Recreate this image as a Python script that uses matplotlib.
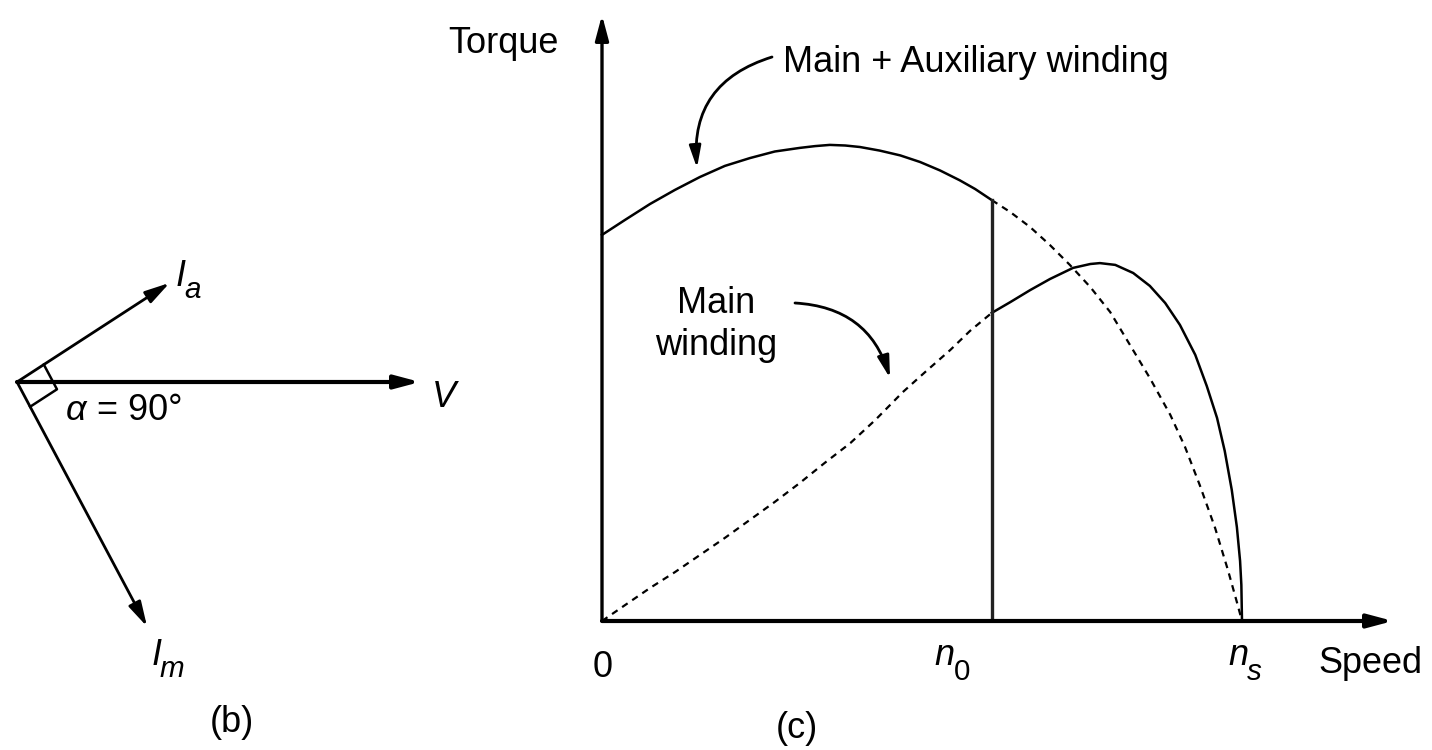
import numpy as np
import matplotlib
matplotlib.use("Agg")
import matplotlib.pyplot as plt
from matplotlib import font_manager as fm

# (b) phasor diagram: length in px, angle in degrees
phasor_names = ["V", "I", "I"]
phasor_subs = ["", "a", "m"]
phasor_mag = [403, 182, 277]
phasor_ang = [0, 33, -62]

# (c) torque-speed curves, speed in p.u. of n_s
speed_aux = [0, .036, .075, .114, .153, .192, .231, .270, .309, .333, .356, .380,
             .403, .434, .466, .497, .528, .559, .583, .609,
             .638, .669, .700, .731, .763, .794, .825, .856, .888, .911, .934,
             .958, .978, .992, 1.0]
torque_aux = [1.287, 1.337, 1.390, 1.437, 1.480, 1.517, 1.543, 1.565, 1.577, 1.583,
              1.587, 1.585, 1.580, 1.568, 1.552, 1.530, 1.502, 1.469, 1.440, 1.403,
              1.363, 1.313, 1.253, 1.187, 1.113, 1.030, .920, .810, .687, .580, .453,
              .310, .170, .063, 0]
speed_main = [0, .036, .075, .114, .153, .192, .231, .270, .309, .348, .388, .427,
              .470, .505, .544, .575, .609,
              .638, .669, .700, .736, .763, .778, .802, .830, .856, .880, .903, .927,
              .945, .961, .973, .984, .992, .997, .999, 1.0]
torque_main = [0, .053, .110, .163, .220, .277, .337, .397, .460, .527, .593, .670,
               .763, .830, .903, .967, 1.027,
               1.063, 1.103, 1.140, 1.177, 1.190, 1.193, 1.187, 1.160, 1.117, 1.060,
               .987, .887, .783, .677, .567, .437, .313, .200, .120, 0]
n0 = 0.609
ns = 1.0
tick_pos = [0, n0, ns]
tick_main = ["0", "n", "n"]
tick_subs = ["", "0", "s"]

names = {f.name for f in fm.fontManager.ttflist}
FONT = "Liberation Sans Narrow" if "Liberation Sans Narrow" in names else "Liberation Sans"
FS = 31 if FONT == "Liberation Sans Narrow" else 26
SUB = FS * 0.82
plt.rcParams["font.family"] = [FONT, "DejaVu Sans"]

W, H = 1432, 750
fig = plt.figure(figsize=(W / 100, H / 100), dpi=100)

# overlay in pixel coords for the phasor diagram and the labels
ov = fig.add_axes([0, 0, 1, 1])
ov.set_xlim(0, W)
ov.set_ylim(H, 0)
ov.axis("off")

head = "-|>,head_length=0.6,head_width=0.16"

# ---- (b) phasors
org = np.array([17, 382])
dirs = []
for m, a in zip(phasor_mag, phasor_ang):
    u = np.array([np.cos(np.radians(a)), -np.sin(np.radians(a))])
    dirs.append(u)
    ov.annotate("", xy=org + m * u, xytext=org,
                arrowprops=dict(arrowstyle=head, lw=3.0 if a == 0 else 2.0,
                                color="black", shrinkA=0, shrinkB=0,
                                mutation_scale=25))
# right-angle mark between I_a and I_m
p1 = org + 32 * dirs[1]
p2 = p1 + 28 * dirs[2]
p3 = org + 28 * dirs[2]
ov.plot([p1[0], p2[0], p3[0]], [p1[1], p2[1], p3[1]], color="black", lw=1.8)

lab_pos = [(432, 407), (176, 286), (152, 665)]
for (x, y), nm, sb in zip(lab_pos, phasor_names, phasor_subs):
    ov.text(x, y, nm, fontsize=FS, style="italic", va="baseline", ha="left")
    if sb:
        ov.text(x + 8, y + 12, sb, fontsize=SUB, style="italic",
                va="baseline", ha="left")
ov.text(66, 420, "α", fontsize=FS, style="italic", va="baseline", ha="left")
ov.text(87, 420, " = 90°", fontsize=FS, va="baseline", ha="left")
ov.text(232, 722, "(b)", fontsize=FS, va="center", ha="center")

# ---- (c) torque-speed
ox, oy, xe, ye = 602, 621, 1393, 15
px_s, px_t = 640, 300
ax = fig.add_axes([ox / W, (H - oy) / H, (xe - ox) / W, (oy - ye) / H])
ax.set_xlim(0, (xe - ox) / px_s)
ax.set_ylim(0, (oy - ye) / px_t)
ax.axis("off")

ax.annotate("", xy=(ax.get_xlim()[1], 0), xytext=(0, 0), annotation_clip=False,
            arrowprops=dict(arrowstyle=head, lw=3.0, color="black",
                            shrinkA=0, shrinkB=0, mutation_scale=25))
ax.annotate("", xy=(0, ax.get_ylim()[1]), xytext=(0, 0), annotation_clip=False,
            arrowprops=dict(arrowstyle=head, lw=2.4, color="black",
                            shrinkA=0, shrinkB=0, mutation_scale=25))

sa, ta = np.array(speed_aux), np.array(torque_aux)
sm, tm = np.array(speed_main), np.array(torque_main)
dash = (0, (3, 2.5))
ax.plot(sa[sa <= n0], ta[sa <= n0], color="black", lw=1.8, clip_on=False)
ax.plot(sa[sa >= n0], ta[sa >= n0], color="black", lw=1.6, ls=dash, clip_on=False)
ax.plot(sm[sm <= n0], tm[sm <= n0], color="black", lw=1.6, ls=dash, clip_on=False)
ax.plot(sm[sm >= n0], tm[sm >= n0], color="black", lw=1.8, clip_on=False)
ax.plot([n0, n0], [0, np.interp(n0, sa, ta)], color="#222222", lw=2.4)

# axis texts
ov.text(448, 53, "Torque", fontsize=FS, va="baseline", ha="left")
ov.text(1318, 673, "Speed", fontsize=FS, va="baseline", ha="left")
for p, nm, sb in zip(tick_pos, tick_main, tick_subs):
    x = ox + p * px_s
    if not sb:
        ov.text(x - 9, 677, nm, fontsize=FS, va="baseline", ha="left")
        continue
    x0 = x - 57 if p == n0 else x - 14
    ov.text(x0, 665, nm, fontsize=FS, style="italic", va="baseline", ha="left")
    ov.text(x0 + 19, 680, sb, fontsize=SUB, style="normal" if sb == "0" else "italic",
            va="baseline", ha="left")
ov.text(797, 728, "(c)", fontsize=FS, va="center", ha="center")

# annotations
ov.text(783, 72, "Main + Auxiliary winding", fontsize=FS, va="baseline", ha="left")
ov.annotate("", xy=(697, 168), xytext=(772, 57),
            arrowprops=dict(arrowstyle=head, lw=2.0, color="black", shrinkA=0, shrinkB=0,
                            mutation_scale=22, connectionstyle="arc3,rad=0.4"))
ov.text(716, 313, "Main", fontsize=FS, va="baseline", ha="center")
ov.text(716, 355, "winding", fontsize=FS, va="baseline", ha="center")
ov.annotate("", xy=(890, 378), xytext=(795, 303),
            arrowprops=dict(arrowstyle=head, lw=2.0, color="black", shrinkA=0, shrinkB=0,
                            mutation_scale=22, connectionstyle="arc3,rad=-0.35"))

fig.savefig("out.png", dpi=100, facecolor="white")
